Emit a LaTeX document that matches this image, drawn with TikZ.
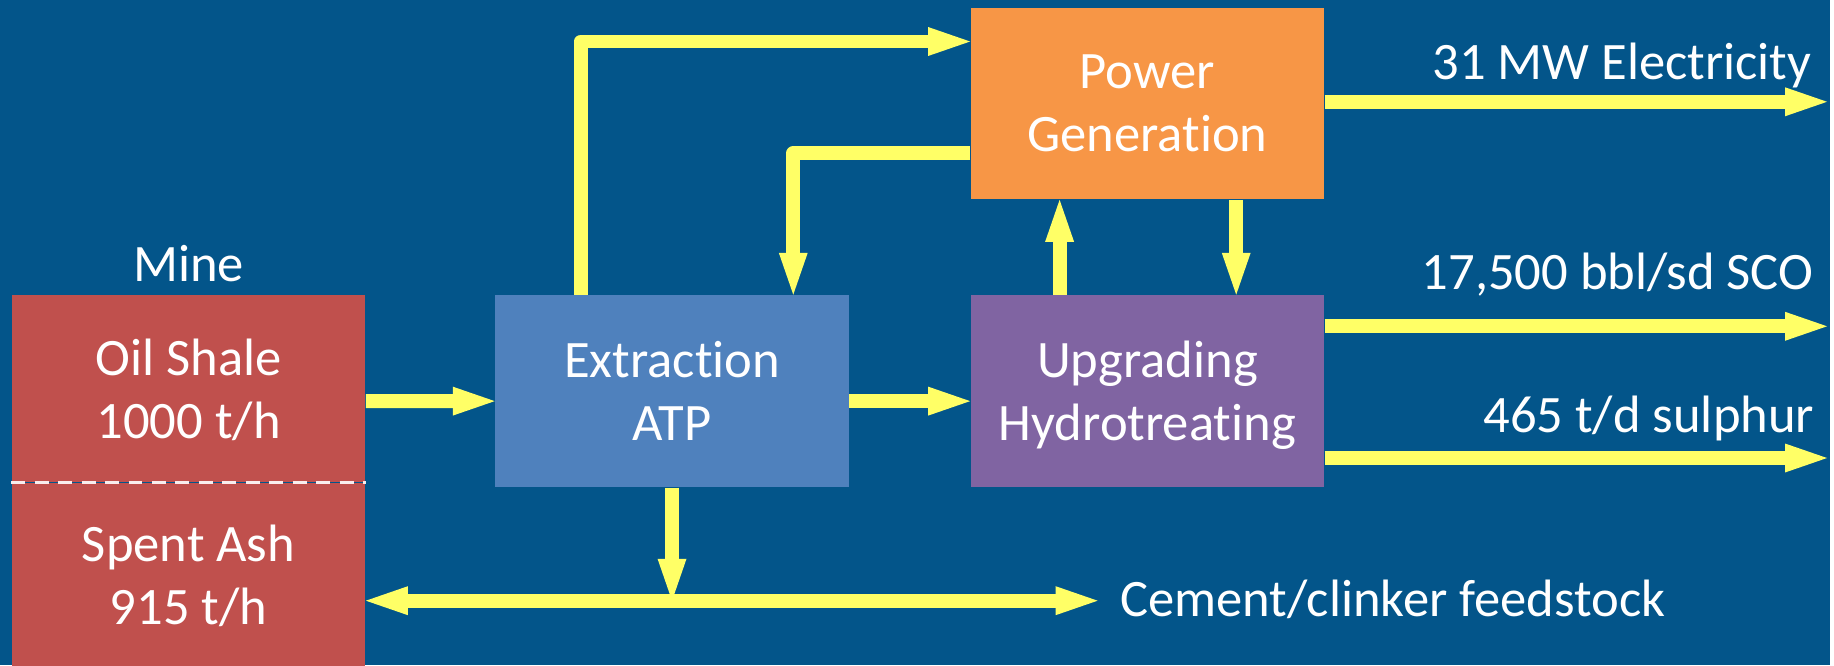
\documentclass[tikz,border=0pt]{standalone}
\usepackage{fontspec}
\setmainfont{Carlito}[RawFeature={-liga;-clig;-dlig}]
\usetikzlibrary{arrows.meta, positioning, calc}
\definecolor{bgblue}{HTML}{03558A}
\definecolor{flowyellow}{HTML}{FFFF66}
\definecolor{minered}{HTML}{C0504D}
\definecolor{atpblue}{HTML}{4F81BD}
\definecolor{upgpurple}{HTML}{8064A2}
\definecolor{powerorange}{HTML}{F79646}
\tikzset{
    flowbase/.style={font=\fontsize{15}{18}\selectfont, >={Triangle[length=0.42cm, width=0.29cm, line width=0pt]}},
    unit/.style={rectangle, text=white, align=center, minimum width=3.54cm, minimum height=1.92cm, inner sep=0pt, text depth=0pt},
    source/.style={unit, fill=minered},
    process/.style={unit, fill=atpblue},
    refine/.style={unit, fill=upgpurple},
    utility/.style={unit, fill=powerorange},
    flowlabel/.style={text=white, inner sep=0pt},
    flow/.style={draw=flowyellow, line width=0.14cm, ->, line join=round},
    divider/.style={draw=white!90!minered, line width=0.03cm, dash pattern=on 0.14cm off 0.095cm},
}
\begin{document}
\begin{tikzpicture}[flowbase]
\fill[bgblue] (0,0) rectangle (18.34,6.66);

% ===================== MINE =====================
\node[source, minimum height=1.87cm] (m_shale) at (1.89, 2.765) {Oil Shale\\1000 t/h};
\node[source, minimum height=1.83cm, below=0cm of m_shale] (m_ash) {Spent Ash\\915 t/h};
\node[above=0cm of m_shale, text=white] (m_label) {Mine};
\draw[divider] (m_shale.south west) -- (m_shale.south east);

% ===================== PROCESS UNITS =====================
\node[process] (p_extract) at (6.735, 2.74) {Extraction\\ATP};
\node[refine, right=1.21cm of p_extract] (p_upgrade) {Upgrading\\Hydrotreating};
\node[utility, above=0.95cm of p_upgrade] (p_power) {Power\\Generation};

% ===================== PRODUCTS =====================
\coordinate (o_elec) at (18.31, 5.64);
\coordinate (o_sco) at (18.31, 3.39);
\coordinate (o_sulph) at (18.31, 2.07);
\coordinate (o_ash) at (11.00, 0.64);
\node[flowlabel, anchor=base east] (l_elec) at (18.16, 5.86) {31 MW Electricity};
\node[flowlabel, anchor=base east] (l_sco) at (18.18, 3.76) {17,500 bbl/sd SCO};
\node[flowlabel, anchor=base east] (l_sulph) at (18.19, 2.33) {465 t/d sulphur};
\node[flowlabel, anchor=base west] (l_cement) at (11.22, 0.48) {Cement/clinker feedstock};

% main line
\draw[flow] ([yshift=-0.125cm]m_shale.east) -- ([yshift=-0.1cm]p_extract.west);
\draw[flow] ([yshift=-0.1cm]p_extract.east) -- ([yshift=-0.1cm]p_upgrade.west);

% power loop
\draw[flow] ([xshift=-0.915cm]p_extract.north) |- ([yshift=0.62cm]p_power.west);
\draw[flow] ([yshift=-0.5cm]p_power.west) -| ([xshift=1.215cm]p_extract.north);
\draw[flow] ([xshift=-0.88cm]p_upgrade.north) -- ([xshift=-0.88cm]p_power.south);
\draw[flow] ([xshift=0.89cm]p_power.south) -- ([xshift=0.89cm]p_upgrade.north);

% products out
\draw[flow] (p_power.east |- o_elec) -- (o_elec);
\draw[flow] (p_upgrade.east |- o_sco) -- (o_sco);
\draw[flow] (p_upgrade.east |- o_sulph) -- (o_sulph);

% spent ash
\draw[flow, <->] (m_ash.east |- o_ash) -- (o_ash);
\draw[flow] (p_extract.south) -- (p_extract.south |- o_ash);

\end{tikzpicture}
\end{document}
